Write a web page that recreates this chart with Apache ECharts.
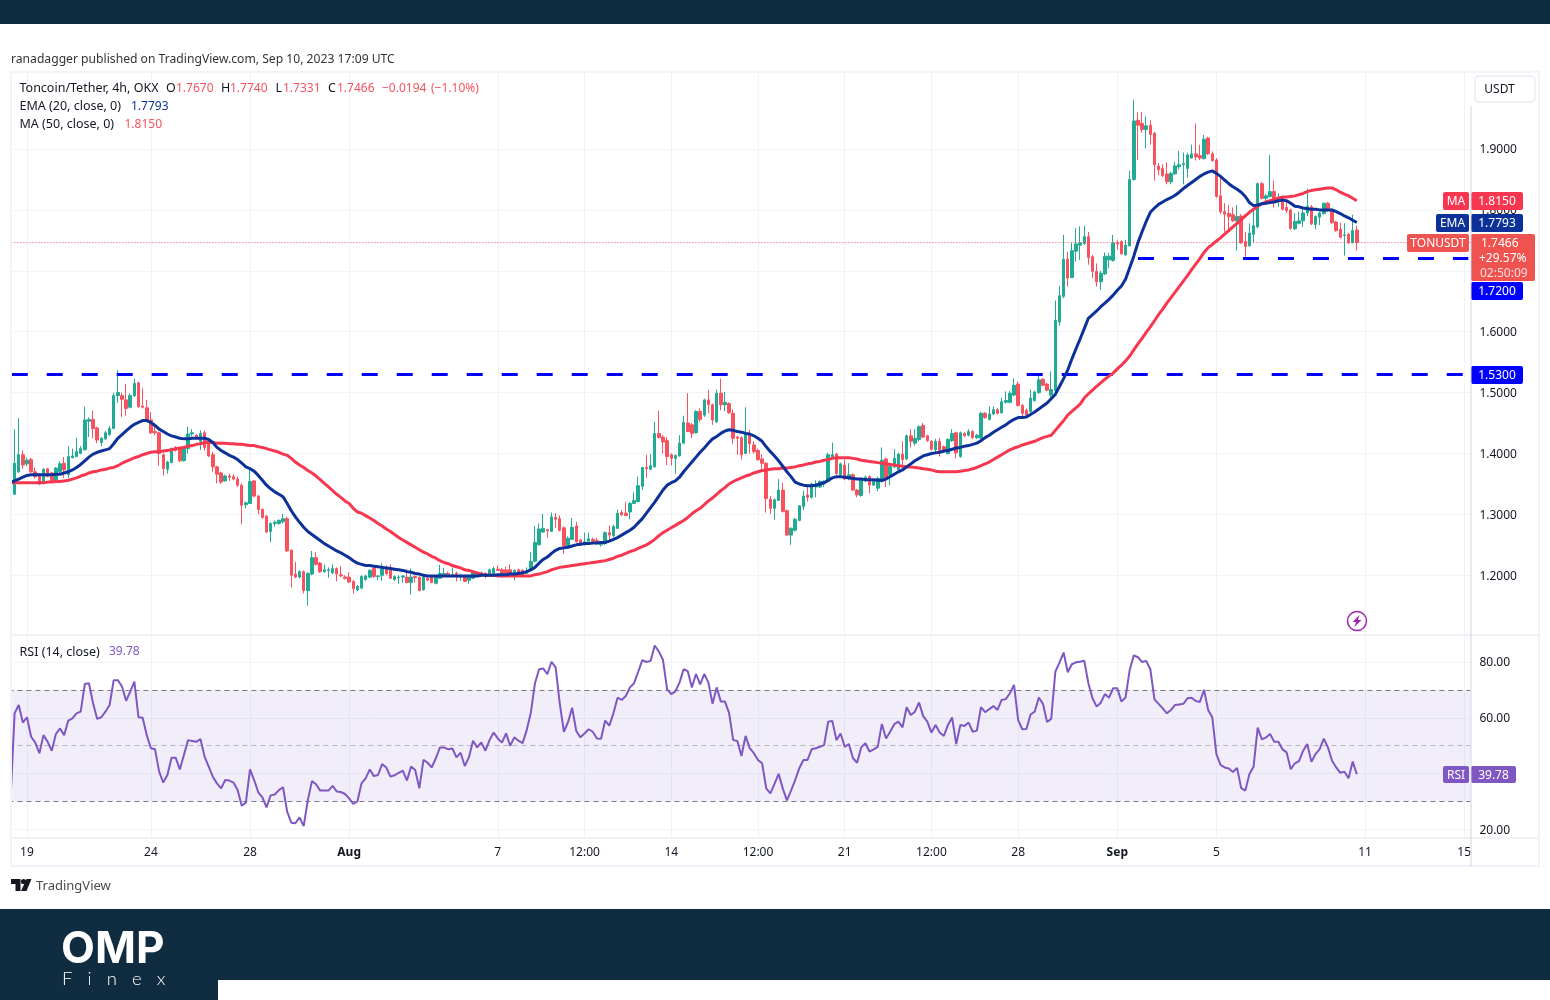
<!DOCTYPE html>
<html>
<head>
<meta charset="utf-8">
<title>TONUSDT 4h</title>
<style>
    html, body { margin: 0; padding: 0; background: #fff; }
    #chart { width: 1550px; height: 1000px; }
</style>
</head>
<body>
<div id="chart"></div>
<script src="https://cdn.jsdelivr.net/npm/echarts@6/dist/echarts.min.js"></script>
<script type="text/javascript">
    // candles, one row = 10 bars, first bar is Jul 18 08:00 (4h)
    var opens = [
        1.352,1.333,1.37,1.398,1.383,1.39,1.37,1.365,1.351,1.375,
        1.368,1.356,1.37,1.384,1.365,1.393,1.395,1.4,1.406,1.453,
        1.456,1.442,1.418,1.424,1.431,1.441,1.495,1.495,1.488,1.476,
        1.495,1.516,1.478,1.475,1.455,1.436,1.434,1.398,1.374,1.385,
        1.41,1.408,1.388,1.408,1.432,1.43,1.42,1.434,1.417,1.398,
        1.378,1.368,1.355,1.363,1.362,1.358,1.348,1.316,1.318,1.355,
        1.33,1.308,1.297,1.272,1.285,1.285,1.288,1.293,1.241,1.202,
        1.197,1.206,1.175,1.202,1.229,1.22,1.206,1.208,1.204,1.211,
        1.201,1.197,1.197,1.19,1.176,1.179,1.193,1.197,1.211,1.198,
        1.2,1.213,1.211,1.193,1.196,1.197,1.197,1.188,1.198,1.197,
        1.176,1.195,1.198,1.187,1.195,1.198,1.203,1.199,1.203,1.197,
        1.199,1.192,1.195,1.204,1.199,1.203,1.199,1.203,1.21,1.209,
        1.209,1.209,1.198,1.209,1.208,1.203,1.208,1.223,1.25,1.271,
        1.275,1.272,1.295,1.293,1.278,1.248,1.259,1.281,1.258,1.25,
        1.256,1.259,1.257,1.25,1.252,1.27,1.265,1.277,1.303,1.302,
        1.304,1.318,1.321,1.346,1.377,1.374,1.378,1.433,1.427,1.421,
        1.398,1.392,1.396,1.417,1.45,1.447,1.434,1.469,1.463,1.488,
        1.48,1.452,1.499,1.48,1.482,1.466,1.427,1.426,1.4,1.432,
        1.414,1.405,1.391,1.384,1.325,1.31,1.323,1.34,1.306,1.266,
        1.274,1.29,1.313,1.332,1.328,1.345,1.345,1.35,1.354,1.393,
        1.399,1.365,1.381,1.358,1.365,1.34,1.331,1.355,1.362,1.348,
        1.343,1.354,1.391,1.365,1.378,1.373,1.399,1.391,1.429,1.417,
        1.423,1.446,1.429,1.42,1.406,1.42,1.411,1.4,1.421,1.434,
        1.395,1.433,1.43,1.436,1.426,1.425,1.466,1.456,1.465,1.472,
        1.467,1.484,1.484,1.496,1.514,1.479,1.471,1.469,1.487,1.5,
        1.522,1.514,1.496,1.503,1.616,1.658,1.719,1.689,1.732,1.742,
        1.745,1.756,1.723,1.699,1.682,1.695,1.718,1.717,1.746,1.748,
        1.726,1.741,1.85,1.947,1.942,1.932,1.939,1.926,1.872,1.868,
        1.859,1.846,1.859,1.871,1.874,1.868,1.885,1.892,1.889,1.884,
        1.918,1.892,1.882,1.823,1.797,1.794,1.792,1.782,1.79,1.748,
        1.741,1.76,1.772,1.843,1.819,1.822,1.83,1.815,1.821,1.804,
        1.8,1.769,1.778,1.782,1.795,1.805,1.776,1.788,1.794,1.811,
        1.8,1.78,1.768,1.758,1.76,1.746,1.767
    ];
    var closes = [
        1.333,1.384,1.398,1.381,1.389,1.37,1.362,1.35,1.374,1.362,
        1.354,1.376,1.383,1.373,1.395,1.396,1.403,1.408,1.455,1.456,
        1.441,1.422,1.425,1.434,1.441,1.495,1.5,1.489,1.474,1.495,
        1.515,1.477,1.476,1.455,1.434,1.434,1.4,1.375,1.386,1.408,
        1.405,1.388,1.41,1.432,1.434,1.426,1.433,1.41,1.396,1.378,
        1.366,1.353,1.363,1.361,1.358,1.348,1.315,1.319,1.354,1.33,
        1.308,1.295,1.271,1.285,1.287,1.29,1.293,1.24,1.2,1.197,
        1.206,1.175,1.203,1.229,1.218,1.206,1.209,1.209,1.211,1.202,
        1.199,1.195,1.189,1.178,1.182,1.198,1.199,1.208,1.198,1.199,
        1.211,1.203,1.195,1.198,1.197,1.199,1.188,1.197,1.196,1.175,
        1.197,1.192,1.188,1.198,1.203,1.203,1.199,1.201,1.197,1.199,
        1.19,1.197,1.205,1.2,1.204,1.198,1.209,1.211,1.208,1.198,
        1.201,1.199,1.208,1.201,1.2,1.207,1.223,1.254,1.276,1.277,
        1.273,1.296,1.292,1.274,1.248,1.261,1.279,1.255,1.25,1.255,
        1.26,1.256,1.252,1.253,1.27,1.266,1.28,1.302,1.299,1.298,
        1.318,1.323,1.347,1.377,1.375,1.38,1.433,1.426,1.419,1.395,
        1.392,1.397,1.417,1.451,1.436,1.433,1.469,1.456,1.488,1.48,
        1.455,1.499,1.48,1.484,1.467,1.425,1.425,1.398,1.434,1.416,
        1.403,1.39,1.384,1.326,1.31,1.324,1.34,1.305,1.266,1.277,
        1.292,1.314,1.33,1.328,1.35,1.35,1.354,1.354,1.398,1.398,
        1.367,1.383,1.358,1.365,1.34,1.332,1.356,1.361,1.348,1.354,
        1.359,1.389,1.358,1.379,1.392,1.399,1.39,1.429,1.42,1.425,
        1.444,1.427,1.421,1.407,1.42,1.405,1.403,1.423,1.433,1.401,
        1.434,1.429,1.436,1.426,1.43,1.466,1.459,1.465,1.472,1.466,
        1.485,1.487,1.499,1.512,1.479,1.466,1.463,1.491,1.501,1.521,
        1.512,1.504,1.505,1.619,1.659,1.719,1.688,1.733,1.744,1.746,
        1.756,1.722,1.699,1.682,1.696,1.724,1.724,1.746,1.744,1.728,
        1.742,1.85,1.946,1.939,1.932,1.938,1.924,1.874,1.866,1.856,
        1.846,1.86,1.872,1.874,1.876,1.89,1.892,1.887,1.885,1.916,
        1.892,1.881,1.822,1.797,1.793,1.789,1.782,1.789,1.746,1.74,
        1.762,1.774,1.843,1.819,1.823,1.83,1.815,1.821,1.801,1.799,
        1.77,1.781,1.782,1.795,1.806,1.777,1.789,1.795,1.811,1.799,
        1.779,1.766,1.755,1.759,1.746,1.766,1.7466
    ];
    var lows = [
        1.33,1.332,1.368,1.375,1.379,1.368,1.359,1.348,1.35,1.361,
        1.352,1.354,1.368,1.36,1.36,1.392,1.394,1.399,1.405,1.427,
        1.425,1.417,1.412,1.422,1.429,1.44,1.483,1.46,1.462,1.474,
        1.493,1.475,1.474,1.453,1.432,1.43,1.38,1.364,1.367,1.384,
        1.403,1.386,1.387,1.4,1.428,1.424,1.406,1.405,1.394,1.37,
        1.351,1.35,1.354,1.355,1.356,1.345,1.284,1.31,1.317,1.328,
        1.3,1.293,1.269,1.254,1.28,1.283,1.285,1.238,1.18,1.195,
        1.195,1.17,1.15,1.2,1.216,1.204,1.204,1.196,1.202,1.19,
        1.197,1.193,1.187,1.17,1.174,1.177,1.191,1.195,1.196,1.192,
        1.191,1.2,1.194,1.191,1.186,1.188,1.187,1.168,1.188,1.174,
        1.175,1.19,1.187,1.185,1.194,1.197,1.197,1.198,1.19,1.191,
        1.189,1.186,1.194,1.199,1.198,1.195,1.198,1.202,1.207,1.196,
        1.199,1.198,1.192,1.2,1.198,1.202,1.207,1.222,1.249,1.27,
        1.262,1.271,1.278,1.272,1.235,1.247,1.258,1.254,1.248,1.249,
        1.255,1.255,1.25,1.247,1.25,1.255,1.263,1.276,1.298,1.297,
        1.292,1.317,1.32,1.34,1.36,1.373,1.377,1.425,1.4,1.381,
        1.38,1.367,1.395,1.416,1.435,1.425,1.433,1.452,1.46,1.466,
        1.447,1.45,1.471,1.469,1.465,1.416,1.398,1.39,1.399,1.4,
        1.4,1.388,1.375,1.303,1.301,1.291,1.322,1.303,1.265,1.25,
        1.272,1.289,1.307,1.321,1.326,1.328,1.343,1.345,1.352,1.392,
        1.365,1.363,1.356,1.356,1.338,1.328,1.329,1.353,1.335,1.347,
        1.338,1.352,1.345,1.348,1.376,1.371,1.372,1.389,1.41,1.413,
        1.42,1.425,1.419,1.405,1.4,1.395,1.401,1.398,1.419,1.392,
        1.393,1.427,1.428,1.424,1.424,1.423,1.457,1.454,1.463,1.464,
        1.465,1.482,1.482,1.494,1.477,1.459,1.459,1.467,1.485,1.498,
        1.51,1.502,1.49,1.5,1.61,1.655,1.674,1.688,1.715,1.718,
        1.742,1.71,1.688,1.674,1.668,1.693,1.704,1.715,1.735,1.726,
        1.725,1.74,1.848,1.882,1.927,1.901,1.907,1.848,1.857,1.854,
        1.842,1.842,1.858,1.866,1.842,1.853,1.884,1.881,1.882,1.883,
        1.89,1.879,1.82,1.793,1.764,1.764,1.78,1.733,1.744,1.723,
        1.74,1.746,1.77,1.817,1.81,1.82,1.804,1.805,1.799,1.795,
        1.767,1.767,1.776,1.772,1.79,1.775,1.768,1.775,1.792,1.797,
        1.777,1.764,1.753,1.725,1.744,1.745,1.7331
    ];
    var highs = [
        1.354,1.44,1.458,1.405,1.393,1.393,1.377,1.367,1.376,1.376,
        1.37,1.378,1.387,1.394,1.412,1.408,1.426,1.412,1.477,1.459,
        1.47,1.444,1.427,1.437,1.445,1.5,1.537,1.5,1.514,1.499,
        1.523,1.518,1.507,1.488,1.468,1.45,1.436,1.4,1.388,1.41,
        1.412,1.41,1.412,1.444,1.44,1.432,1.438,1.438,1.419,1.403,
        1.38,1.37,1.365,1.367,1.366,1.362,1.351,1.321,1.375,1.356,
        1.332,1.31,1.299,1.287,1.29,1.292,1.301,1.296,1.243,1.222,
        1.208,1.208,1.205,1.24,1.238,1.222,1.218,1.213,1.218,1.213,
        1.215,1.2,1.205,1.192,1.184,1.2,1.201,1.21,1.213,1.2,
        1.22,1.216,1.218,1.2,1.2,1.2,1.21,1.211,1.2,1.198,
        1.199,1.198,1.2,1.2,1.217,1.212,1.206,1.213,1.206,1.203,
        1.201,1.199,1.207,1.206,1.206,1.205,1.211,1.214,1.216,1.212,
        1.214,1.218,1.21,1.211,1.21,1.213,1.238,1.281,1.285,1.301,
        1.275,1.303,1.302,1.298,1.28,1.264,1.294,1.288,1.26,1.27,
        1.27,1.262,1.261,1.255,1.272,1.282,1.283,1.308,1.307,1.32,
        1.32,1.336,1.362,1.378,1.398,1.399,1.452,1.47,1.43,1.427,
        1.4,1.398,1.43,1.462,1.499,1.45,1.471,1.474,1.49,1.505,
        1.482,1.505,1.523,1.501,1.484,1.472,1.429,1.428,1.476,1.439,
        1.42,1.408,1.399,1.386,1.33,1.326,1.358,1.352,1.308,1.279,
        1.294,1.315,1.339,1.345,1.352,1.356,1.356,1.356,1.401,1.418,
        1.401,1.385,1.39,1.384,1.367,1.342,1.358,1.364,1.364,1.356,
        1.362,1.41,1.393,1.381,1.407,1.401,1.42,1.431,1.44,1.44,
        1.446,1.45,1.431,1.422,1.424,1.425,1.413,1.425,1.44,1.436,
        1.436,1.435,1.44,1.438,1.432,1.468,1.468,1.477,1.477,1.474,
        1.492,1.502,1.503,1.523,1.518,1.481,1.474,1.505,1.503,1.53,
        1.524,1.516,1.535,1.651,1.675,1.759,1.731,1.746,1.77,1.773,
        1.774,1.764,1.726,1.712,1.7,1.73,1.729,1.759,1.75,1.75,
        1.751,1.864,1.981,1.96,1.961,1.953,1.947,1.928,1.877,1.875,
        1.878,1.862,1.879,1.897,1.894,1.894,1.907,1.942,1.907,1.923,
        1.92,1.896,1.885,1.857,1.811,1.808,1.804,1.808,1.793,1.764,
        1.778,1.799,1.845,1.846,1.826,1.89,1.848,1.827,1.823,1.814,
        1.802,1.795,1.797,1.805,1.835,1.808,1.791,1.797,1.812,1.813,
        1.802,1.782,1.779,1.778,1.762,1.792,1.774
    ];
    // EMA 20
    var ema20 = [
        1.352,1.355,1.358,1.361,1.364,1.365,1.365,1.365,1.365,1.365,
        1.365,1.366,1.366,1.368,1.37,1.373,1.377,1.382,1.388,1.394,
        1.399,1.402,1.404,1.406,1.408,1.416,1.425,1.431,1.437,1.443,
        1.448,1.451,1.454,1.454,1.451,1.446,1.44,1.436,1.432,1.429,
        1.427,1.425,1.424,1.424,1.425,1.425,1.425,1.425,1.423,1.418,
        1.41,1.405,1.401,1.397,1.394,1.39,1.384,1.378,1.375,1.371,
        1.364,1.356,1.348,1.342,1.337,1.333,1.329,1.318,1.306,1.296,
        1.287,1.279,1.272,1.267,1.262,1.257,1.252,1.248,1.244,1.24,
        1.237,1.233,1.229,1.224,1.22,1.218,1.216,1.216,1.215,1.214,
        1.213,1.212,1.211,1.21,1.209,1.208,1.206,1.205,1.203,1.202,
        1.2,1.199,1.199,1.199,1.199,1.199,1.199,1.199,1.199,1.199,
        1.199,1.199,1.199,1.199,1.2,1.2,1.2,1.2,1.201,1.201,
        1.201,1.202,1.202,1.203,1.204,1.206,1.209,1.213,1.22,1.226,
        1.23,1.236,1.241,1.244,1.245,1.246,1.248,1.25,1.251,1.252,
        1.252,1.253,1.253,1.254,1.254,1.256,1.259,1.262,1.266,1.27,
        1.274,1.279,1.286,1.293,1.302,1.311,1.32,1.33,1.34,1.348,
        1.352,1.355,1.361,1.37,1.378,1.386,1.394,1.402,1.409,1.417,
        1.424,1.428,1.433,1.437,1.439,1.438,1.436,1.435,1.433,1.432,
        1.429,1.425,1.42,1.411,1.403,1.396,1.388,1.379,1.37,1.362,
        1.353,1.35,1.348,1.347,1.347,1.348,1.35,1.352,1.356,1.36,
        1.362,1.362,1.361,1.36,1.359,1.358,1.358,1.357,1.357,1.357,
        1.356,1.356,1.358,1.362,1.366,1.37,1.373,1.378,1.383,1.388,
        1.392,1.396,1.398,1.4,1.401,1.402,1.404,1.405,1.407,1.409,
        1.41,1.412,1.413,1.415,1.417,1.421,1.426,1.43,1.435,1.439,
        1.443,1.447,1.452,1.456,1.459,1.459,1.46,1.464,1.468,1.473,
        1.478,1.483,1.49,1.497,1.51,1.523,1.537,1.555,1.572,1.588,
        1.605,1.622,1.628,1.634,1.641,1.647,1.653,1.66,1.668,1.675,
        1.686,1.705,1.724,1.746,1.764,1.781,1.796,1.803,1.809,1.813,
        1.817,1.82,1.824,1.829,1.835,1.84,1.845,1.85,1.855,1.859,
        1.862,1.864,1.86,1.855,1.849,1.843,1.838,1.834,1.829,1.822,
        1.812,1.807,1.808,1.81,1.811,1.812,1.813,1.815,1.816,1.815,
        1.811,1.806,1.805,1.803,1.802,1.801,1.801,1.8,1.8,1.8,
        1.8,1.797,1.794,1.79,1.787,1.783,1.7793
    ];
    // MA 50
    var ma50 = [
        1.352,1.352,1.352,1.352,1.352,1.352,1.352,1.352,1.352,1.353,
        1.353,1.354,1.354,1.355,1.356,1.358,1.36,1.363,1.365,1.368,
        1.37,1.371,1.373,1.374,1.376,1.377,1.38,1.384,1.387,1.39,
        1.393,1.395,1.398,1.4,1.402,1.403,1.403,1.404,1.405,1.406,
        1.408,1.409,1.41,1.412,1.413,1.415,1.416,1.418,1.418,1.418,
        1.417,1.417,1.417,1.416,1.416,1.415,1.415,1.414,1.413,1.413,
        1.411,1.41,1.408,1.406,1.404,1.402,1.399,1.397,1.392,1.386,
        1.381,1.377,1.372,1.368,1.363,1.357,1.351,1.345,1.339,1.333,
        1.328,1.322,1.318,1.31,1.304,1.302,1.298,1.294,1.29,1.285,
        1.281,1.276,1.272,1.267,1.262,1.258,1.254,1.25,1.246,1.242,
        1.238,1.235,1.231,1.228,1.224,1.221,1.219,1.216,1.214,1.212,
        1.209,1.208,1.206,1.204,1.202,1.2,1.2,1.2,1.199,1.199,
        1.199,1.199,1.199,1.199,1.199,1.199,1.199,1.201,1.202,1.204,
        1.206,1.209,1.211,1.213,1.214,1.215,1.216,1.217,1.218,1.219,
        1.22,1.221,1.222,1.223,1.224,1.226,1.228,1.231,1.233,1.236,
        1.239,1.241,1.244,1.247,1.25,1.254,1.259,1.265,1.27,1.274,
        1.278,1.282,1.286,1.29,1.295,1.301,1.306,1.31,1.316,1.322,
        1.327,1.333,1.339,1.344,1.35,1.354,1.357,1.36,1.363,1.365,
        1.368,1.37,1.372,1.373,1.374,1.375,1.375,1.376,1.376,1.377,
        1.378,1.38,1.381,1.383,1.384,1.386,1.387,1.389,1.39,1.392,
        1.393,1.393,1.393,1.393,1.392,1.391,1.389,1.388,1.387,1.386,
        1.385,1.384,1.383,1.382,1.381,1.38,1.379,1.378,1.378,1.377,
        1.376,1.375,1.374,1.373,1.371,1.37,1.37,1.37,1.37,1.37,
        1.371,1.372,1.373,1.375,1.377,1.38,1.383,1.386,1.39,1.394,
        1.398,1.402,1.406,1.409,1.411,1.414,1.416,1.418,1.42,1.423,
        1.426,1.428,1.43,1.438,1.446,1.454,1.463,1.469,1.475,1.481,
        1.491,1.498,1.504,1.51,1.516,1.522,1.527,1.532,1.539,1.545,
        1.552,1.56,1.57,1.58,1.589,1.599,1.608,1.618,1.628,1.637,
        1.647,1.656,1.665,1.674,1.683,1.692,1.702,1.711,1.72,1.73,
        1.738,1.743,1.749,1.754,1.76,1.766,1.772,1.778,1.784,1.79,
        1.796,1.801,1.806,1.81,1.813,1.815,1.817,1.819,1.821,1.821,
        1.822,1.823,1.825,1.827,1.83,1.832,1.833,1.834,1.835,1.836,
        1.836,1.833,1.829,1.826,1.823,1.819,1.815
    ];
    // RSI 14
    var rsi14 = [
        30,61.6,64.6,58.3,60.2,53.2,51.1,47.3,53.8,51.4,
        48.2,54.2,56.2,53.8,59,59.8,61.6,62.2,72.1,72.4,
        65.2,59.6,60.2,62.2,64.6,73.5,73.5,71.2,66.1,69.4,
        73,60.2,60,53.8,49.1,48.7,40.7,36.8,39.5,45.7,
        45.7,41.5,46.7,52,51.7,51.4,52.4,46.1,42.5,38.9,
        36.5,34.7,37.7,37.5,36.8,34.1,28.5,29.6,41.5,37.7,
        33.3,31.5,27.9,32.2,32.5,34.1,35.1,26.4,22.4,22.2,
        24.3,21.2,30.5,37.3,36.2,33.9,33.9,33.9,35.6,33.6,
        33.4,32.7,31.1,29.1,30,36.5,38.3,41.5,39.1,39.5,
        43.4,42.2,38.9,39.4,40.3,41.1,37.5,42.5,41.3,34.7,
        44.9,43.9,42.2,45.5,49.4,49.4,48.7,49,45.8,47.5,
        42.7,45.8,51.8,49.4,51.2,48.2,52,54.7,52.6,51.1,
        54.4,50,53,51.8,50.9,55.6,61.8,72.4,77.4,77.7,
        75.6,80.1,78.1,65.2,55,58.4,63.6,55.3,53,54.4,
        55.9,55,52.6,52.5,59,57.2,61.6,67.2,66.4,67.8,
        70.9,72.4,76.5,80.7,80,80.4,85.9,83.7,80.7,70.2,
        68.5,69.5,72.6,77.4,76.7,70.9,75.7,72,75.7,72.6,
        65,70.9,65.8,65.8,61.8,52,51.7,46.3,53.5,49.1,
        47.3,44.9,43.7,34.7,32.9,36.3,39.9,34.7,30.4,33.9,
        37.7,41.9,44.9,44.9,48.7,49.1,49.6,50.2,58.6,58.9,
        52,54.4,49.6,50.6,45.5,43.9,49.4,50.9,47.9,48.7,
        49.6,57.8,52.6,55,57.7,58.6,56.6,63.8,61,62.2,
        65.5,60.6,58.6,54.7,57.4,54.7,53.5,57.4,60.1,50.6,
        57.4,57.1,58.3,55,55.4,63.8,62,63.1,64.2,62.8,
        66.4,66.7,68.8,71.8,59.2,55.9,56,61.2,62.2,67.3,
        65,58.5,59.6,76.5,79.8,83.4,76.3,79.2,79.9,80.1,
        80.5,72.4,67,64,65.4,68.5,67.2,70.6,70.6,65.8,
        67.3,77.1,82.4,81.7,80,80.4,77.4,66.6,65,63.4,
        61.6,62.8,64.6,64.8,65,67,67.2,66,65.7,70,
        62.8,60.2,47,43.1,42.2,41.8,40.6,42,34.8,33.9,
        39.9,42.5,56.5,52.3,52.9,54.2,51.4,51.4,48.7,47.6,
        41.6,43.7,44.5,48.2,50.6,44.2,47,48.8,52.5,49.4,
        44.6,42.2,40.3,40.7,38.3,44.3,39.78
    ];

    // time axis: slots include the empty space right of the last candle
    var slotCount = 354;
    var tickIndexes = [4, 34, 58, 82, 118, 139, 160, 181, 202, 223, 244, 268, 292, 328, 352];
    var tickLabels = ['19', '24', '28', 'Aug', '7', '12:00', '14', '12:00', '21', '12:00', '28', 'Sep', '5', '11', '15'];
    var priceTicks = [1.2, 1.3, 1.4, 1.5, 1.6, 1.7, 1.8, 1.9];
    var rsiTicks = [20, 40, 60, 80];
    var supportLevel = 1.72;
    var resistanceLevel = 1.53;
    var lastClose = 1.7466;
    var rsiBandTop = 70;
    var rsiBandMid = 50;
    var rsiBandBottom = 30;
    var supportStartIndex = 273;

    var GREEN = '#22ab94', RED = '#f7525f', GRID = '#f0f3fa', TEXT = '#131722';
    var FONT = '"Noto Sans", sans-serif';

    var categories = [];
    for (var i = 0; i < slotCount; i++) {
        categories.push(new Date(Date.UTC(2023, 6, 18, 8) + i * 4 * 3600 * 1000).toISOString().slice(5, 16));
    }

    var candleData = [];
    for (var k = 0; k < opens.length; k++) {
        candleData.push([opens[k], closes[k], lows[k], highs[k]]);
    }

    function isTick(index) {
        return tickIndexes.indexOf(index) >= 0;
    }

    function tickFormatter(value, index) {
        var label = tickLabels[tickIndexes.indexOf(index)];
        return (label === 'Aug' || label === 'Sep') ? '{b|' + label + '}' : label;
    }

    // graphic helpers
    function box(x, y, w, h, fill, r) {
        return { type: 'rect', z: 50, silent: true, shape: { x: x, y: y, width: w, height: h, r: r || 0 }, style: { fill: fill } };
    }
    function line(x1, y1, x2, y2, color) {
        return { type: 'line', z: 51, silent: true, shape: { x1: x1, y1: y1, x2: x2, y2: y2 }, style: { stroke: color, lineWidth: 1 } };
    }
    function label(x, y, text, color, size, align, extra) {
        var style = { text: text, x: x, y: y, fill: color, font: (size || 12) + 'px ' + FONT, textAlign: align || 'left', textVerticalAlign: 'middle' };
        for (var key in (extra || {})) { style[key] = extra[key]; }
        return { type: 'text', z: 60, silent: true, style: style };
    }
    function tag(x, y, w, h, fill, text) {
        return [box(x, y, w, h, fill, 2), label(x + w / 2, y + h / 2 + 1, text, '#fff', 12, 'center')];
    }

    var graphics = [].concat(
        // cover the half candle left of the pane
        [box(0, 68, 11, 775, '#fff')],
        // page bars
        [box(0, 0, 1550, 24, '#0f2c41'), box(0, 909, 1550, 91, '#0f2c41'), box(218, 980, 1332, 20, '#fff')],
        // frame
        [
            { type: 'rect', z: 51, silent: true, shape: { x: 11, y: 72, width: 1528, height: 794 }, style: { fill: 'none', stroke: GRID, lineWidth: 2 } },
            line(12, 635, 1538, 635, '#e0e3eb'),
            line(12, 838, 1538, 838, '#e0e3eb'),
            line(1471, 106, 1471, 866, '#d1d4dc')
        ],
        // header + legend
        [
            label(11, 59.5, 'ranadagger published on TradingView.com, Sep 10, 2023 17:09 UTC', '#333', 12.15),
            label(19.5, 88.5, 'Toncoin/Tether, 4h, OKX', TEXT, 12.5),
            label(166, 88.5, 'O', TEXT, 12.5),
            label(176, 88.5, '1.7670', RED, 12),
            label(221, 88.5, 'H', TEXT, 12.5),
            label(230, 88.5, '1.7740', RED, 12),
            label(275.5, 88.5, 'L', TEXT, 12.5),
            label(283, 88.5, '1.7331', RED, 12),
            label(328, 88.5, 'C', TEXT, 12.5),
            label(337, 88.5, '1.7466', RED, 12),
            label(382, 88.5, '\u22120.0194', RED, 12),
            label(431, 88.5, '(\u22121.10%)', RED, 12),
            label(19.5, 106.5, 'EMA (20, close, 0)', TEXT, 12.5),
            label(131, 106.5, '1.7793', '#0c3299', 12),
            label(19.5, 124.5, 'MA (50, close, 0)', TEXT, 12.5),
            label(124.5, 124.5, '1.8150', RED, 12),
            label(19.5, 652, 'RSI (14, close)', TEXT, 12.5),
            label(109, 652, '39.78', '#7e57c2', 12)
        ],
        // USDT button
        [
            { type: 'rect', z: 60, silent: true, shape: { x: 1475, y: 76, width: 60, height: 26, r: 4 }, style: { fill: '#fff', stroke: '#e0e3eb', lineWidth: 1 } },
            label(1499.5, 90, 'USDT', TEXT, 12, 'center')
        ],
        // price tags
        tag(1443, 192, 26, 18, '#f7374f', 'MA'),
        tag(1471, 192, 52, 18, '#f7374f', '1.8150'),
        tag(1436, 214, 33, 18, '#0c3299', 'EMA'),
        tag(1471, 214, 52, 18, '#0c3299', '1.7793'),
        tag(1407, 234, 62, 18, '#ef5350', 'TONUSDT'),
        [
            box(1471, 234, 64, 47, '#ef5350', 2),
            label(1481, 244, '1.7466', '#fff', 12),
            label(1479, 259, '+29.57%', '#fff', 12),
            label(1480, 274, '02:50:09', '#fbdcdc', 12)
        ],
        tag(1471, 282, 52, 18, '#0000ff', '1.7200'),
        tag(1471, 366, 52, 18, '#0000ff', '1.5300'),
        tag(1443, 766, 26, 17, '#7e57c2', 'RSI'),
        tag(1471, 766, 45, 17, '#7e57c2', '39.78'),
        // lightning badge
        [
            { type: 'circle', z: 60, silent: true, shape: { cx: 1357, cy: 621, r: 9.5 }, style: { fill: '#fff', stroke: '#9c27b0', lineWidth: 1.5 } },
            { type: 'polygon', z: 61, silent: true, shape: { points: [[1359.5, 615], [1352.5, 622], [1356, 622], [1354.5, 627], [1361.5, 620], [1358, 620]] }, style: { fill: '#9c27b0' } }
        ],
        // TradingView mark
        [
            { type: 'polygon', z: 60, silent: true, shape: { points: [[11, 879], [20.5, 879], [20.5, 891], [15.5, 891], [15.5, 884], [11, 884]] }, style: { fill: '#131722' } },
            { type: 'circle', z: 60, silent: true, shape: { cx: 23.5, cy: 881.5, r: 2.6 }, style: { fill: '#131722' } },
            { type: 'polygon', z: 60, silent: true, shape: { points: [[26.5, 879], [31.5, 879], [26.5, 891], [21, 891]] }, style: { fill: '#131722' } },
            label(36, 886, 'TradingView', '#4a4a4a', 13)
        ],
        // OMP Finex logo
        [
            label(61, 950, 'OMP', '#fff', 44, 'left', { font: '700 44px Inter, sans-serif' }),
            label(62, 979, 'F   i   n   e   x', '#fff', 18.5, 'left', { font: '300 18.5px Lato, sans-serif' })
        ]
    );

    var chart = echarts.init(document.getElementById('chart'));

    var option = {
        animation: false,
        backgroundColor: '#fff',
        textStyle: { fontFamily: FONT },
        grid: [
            { left: 8.4, right: 79.6, top: 72, height: 562 },
            { left: 8.4, right: 79.6, top: 636, height: 202 }
        ],
        xAxis: [
            {
                type: 'category', gridIndex: 0, data: categories, boundaryGap: true,
                axisLine: { show: false }, axisTick: { show: false }, axisLabel: { show: false },
                splitLine: { show: true, interval: isTick, alignWithLabel: true, lineStyle: { color: GRID } }
            },
            {
                type: 'category', gridIndex: 1, data: categories, boundaryGap: true,
                axisLine: { show: false }, axisTick: { show: false },
                axisLabel: {
                    interval: isTick, formatter: tickFormatter, margin: 9, color: TEXT, fontSize: 12, fontFamily: FONT,
                    rich: { b: { fontWeight: 'bold', fontSize: 12, color: TEXT, fontFamily: FONT } }
                },
                splitLine: { show: true, interval: isTick, alignWithLabel: true, lineStyle: { color: GRID } }
            }
        ],
        yAxis: [
            {
                type: 'value', gridIndex: 0, position: 'right', min: 1.1036, max: 2.0264, scale: true,
                axisLine: { show: false },
                axisTick: { show: false, customValues: priceTicks },
                axisLabel: { customValues: priceTicks, margin: 9, verticalAlign: 'top', padding: [-5, 0, 0, 0], color: TEXT, fontSize: 12, fontFamily: FONT, formatter: function (v) { return v.toFixed(4); } },
                splitLine: { show: true, lineStyle: { color: GRID } }
            },
            {
                type: 'value', gridIndex: 1, position: 'right', min: 16.92, max: 89.32, scale: true,
                axisLine: { show: false },
                axisTick: { show: false, customValues: rsiTicks },
                axisLabel: { customValues: rsiTicks, margin: 9, verticalAlign: 'top', padding: [-5, 0, 0, 0], color: TEXT, fontSize: 12, fontFamily: FONT, formatter: function (v) { return v.toFixed(2); } },
                splitLine: { show: true, lineStyle: { color: GRID } }
            }
        ],
        series: [
            {
                name: 'TONUSDT', type: 'candlestick', xAxisIndex: 0, yAxisIndex: 0, data: candleData,
                barWidth: 3, z: 3,
                itemStyle: { color: GREEN, color0: RED, borderColor: GREEN, borderColor0: RED, borderWidth: 1 },
                markLine: {
                    silent: true, symbol: 'none', label: { show: false }, z: 5, precision: 4,
                    data: [
                        { yAxis: lastClose, lineStyle: { color: RED, type: [1, 2], width: 1 } },
                        { yAxis: resistanceLevel, lineStyle: { color: '#0000ff', type: [16, 19], dashOffset: 31.7, width: 3 } },
                        [
                            { coord: [categories[supportStartIndex], supportLevel], lineStyle: { color: '#0000ff', type: [16, 19], width: 3 } },
                            { coord: [categories[slotCount - 1], supportLevel] }
                        ]
                    ]
                }
            },
            {
                name: 'MA', type: 'line', xAxisIndex: 0, yAxisIndex: 0, data: ma50, showSymbol: false, z: 6,
                lineStyle: { color: '#f7374f', width: 3 }
            },
            {
                name: 'EMA', type: 'line', xAxisIndex: 0, yAxisIndex: 0, data: ema20, showSymbol: false, z: 7,
                lineStyle: { color: '#0c3299', width: 3 }
            },
            {
                name: 'RSI', type: 'line', xAxisIndex: 1, yAxisIndex: 1, data: rsi14, showSymbol: false, z: 6,
                lineStyle: { color: '#7e57c2', width: 2 },
                markArea: {
                    silent: true, itemStyle: { color: 'rgba(126,87,194,0.1)' },
                    data: [[{ yAxis: rsiBandTop }, { yAxis: rsiBandBottom }]]
                },
                markLine: {
                    silent: true, symbol: 'none', label: { show: false },
                    data: [
                        { yAxis: rsiBandTop, lineStyle: { color: '#787b86', type: [5, 4], width: 1 } },
                        { yAxis: rsiBandMid, lineStyle: { color: 'rgba(120,123,134,0.5)', type: [5, 4], width: 1 } },
                        { yAxis: rsiBandBottom, lineStyle: { color: '#787b86', type: [5, 4], width: 1 } }
                    ]
                }
            }
        ],
        graphic: { elements: graphics }
    };

    chart.setOption(option);
</script>
</body>
</html>
